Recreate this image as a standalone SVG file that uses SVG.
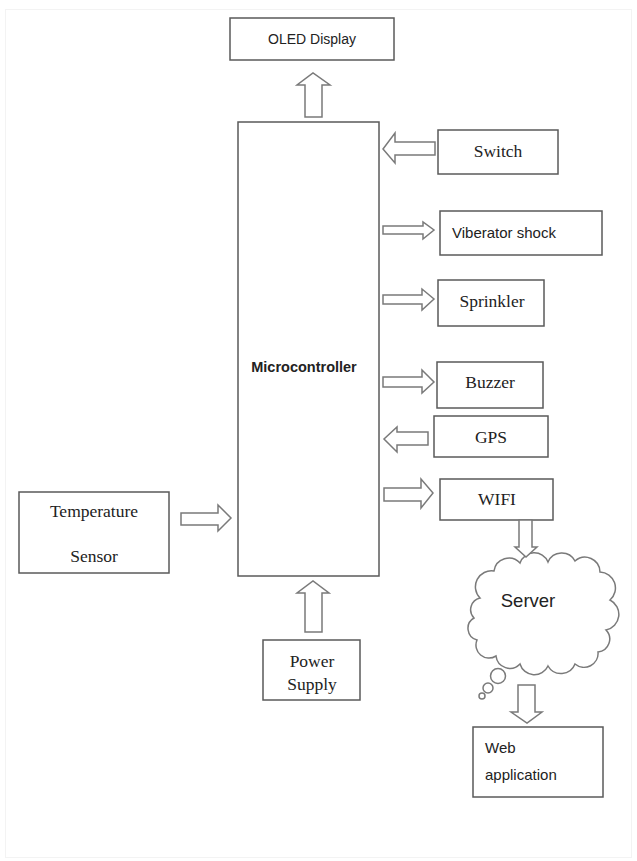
<svg xmlns="http://www.w3.org/2000/svg" width="637" height="861" viewBox="0 0 637 861">
<style>
.box{fill:#fff;stroke:#5a5a5a;stroke-width:1.5}
.arr{fill:#fff;stroke:#7a7a7a;stroke-width:1.5;stroke-linejoin:miter}
.serif{font-family:"Liberation Serif","Times New Roman",serif;font-size:17.5px;fill:#222}
.sans{font-family:"Liberation Sans",Arial,sans-serif;fill:#222}
</style>
<rect x="0" y="0" width="637" height="861" fill="#fff"/>
<rect x="5.5" y="9.5" width="626" height="848" fill="none" stroke="#f3f3f3" stroke-width="1"/>

<g id="oled">
<rect class="box" x="230" y="18" width="164" height="42"/>
<text class="sans" x="312" y="44" font-size="14" text-anchor="middle">OLED Display</text>
</g>
<g id="microcontroller">
<rect class="box" x="238" y="122" width="141" height="454"/>
<text class="sans" x="304" y="372" font-size="14.5" font-weight="bold" text-anchor="middle">Microcontroller</text>
</g>
<g id="switch">
<rect class="box" x="438" y="130" width="120" height="44"/>
<text class="serif" x="498" y="157" text-anchor="middle">Switch</text>
</g>
<g id="viberator">
<rect class="box" x="440" y="211" width="162" height="44"/>
<text class="sans" x="452" y="238" font-size="15">Viberator shock</text>
</g>
<g id="sprinkler">
<rect class="box" x="438" y="280" width="106" height="46"/>
<text class="serif" x="492" y="307" text-anchor="middle">Sprinkler</text>
</g>
<g id="buzzer">
<rect class="box" x="437" y="362" width="106" height="46"/>
<text class="serif" x="490" y="388" text-anchor="middle">Buzzer</text>
</g>
<g id="gps">
<rect class="box" x="434" y="416" width="114" height="41"/>
<text class="serif" x="491" y="443" text-anchor="middle">GPS</text>
</g>
<g id="wifi">
<rect class="box" x="440" y="479" width="113" height="41"/>
<text class="serif" x="497" y="505" text-anchor="middle">WIFI</text>
</g>
<g id="temperature">
<rect class="box" x="19" y="492" width="150" height="81"/>
<text class="serif" x="94" y="517" text-anchor="middle">Temperature</text>
<text class="serif" x="94" y="562" text-anchor="middle">Sensor</text>
</g>
<g id="power">
<rect class="box" x="263" y="640" width="97" height="60"/>
<text class="serif" x="312" y="667" text-anchor="middle">Power</text>
<text class="serif" x="312" y="690" text-anchor="middle">Supply</text>
</g>
<g id="server">
<path fill="#fff" stroke="#7a7a7a" stroke-width="1.5" d="M480,598 A16,16 0 0 1 494,571 A15,15 0 0 1 520,563 A15,15 0 0 1 548,562 A15,15 0 0 1 575,561 A15,15 0 0 1 600,572 A16,16 0 0 1 610,600 A16,16 0 0 1 606,630 A13,13 0 0 1 598,652 A14,14 0 0 1 575,664 A15,15 0 0 1 548,666 A15,15 0 0 1 520,664 A14,14 0 0 1 496,656 A13,13 0 0 1 477,640 A12,12 0 0 1 474,618 A12,12 0 0 1 480,598 Z"/>
<circle cx="498" cy="676" r="7.5" fill="#fff" stroke="#7a7a7a" stroke-width="1.5"/>
<circle cx="488" cy="688" r="5" fill="#fff" stroke="#7a7a7a" stroke-width="1.5"/>
<circle cx="482" cy="696" r="3" fill="#fff" stroke="#7a7a7a" stroke-width="1.5"/>
<text class="sans" x="528" y="607" font-size="18.5" text-anchor="middle">Server</text>
</g>
<g id="webapp">
<rect class="box" x="473" y="727" width="130" height="70"/>
<text class="sans" x="485" y="753" font-size="15">Web</text>
<text class="sans" x="485" y="780" font-size="15">application</text>
</g>

<g id="connectors">
<polygon class="arr" points="305,117 305,85 297,85 313,73 330,85 322,85 322,117"/>
<polygon class="arr" points="435,142 395,142 395,133 383,149 395,163 395,155 435,155"/>
<polygon class="arr" points="383,226 423,226 423,222 434,230 423,239 423,234 383,234"/>
<polygon class="arr" points="383,295 422,295 422,289 434,299 422,310 422,304 383,304"/>
<polygon class="arr" points="383,377 422,377 422,370 434,382 422,393 422,387 383,387"/>
<polygon class="arr" points="428,432 397,432 397,427 384,439 397,452 397,445 428,445"/>
<polygon class="arr" points="384,488 421,488 421,479 433,493 421,508 421,501 384,501"/>
<polygon class="arr" points="181,513 218,513 218,505 231,518 218,531 218,525 181,525"/>
<polygon class="arr" points="305,632 305,593 297,593 313,581 329,593 322,593 322,632"/>
<polygon class="arr" points="519,520 519,547 515,547 526,557 537,547 532,547 532,520"/>
<polygon class="arr" points="518,685 518,712 511,712 527,723 542,712 535,712 535,685"/>
</g>
</svg>
